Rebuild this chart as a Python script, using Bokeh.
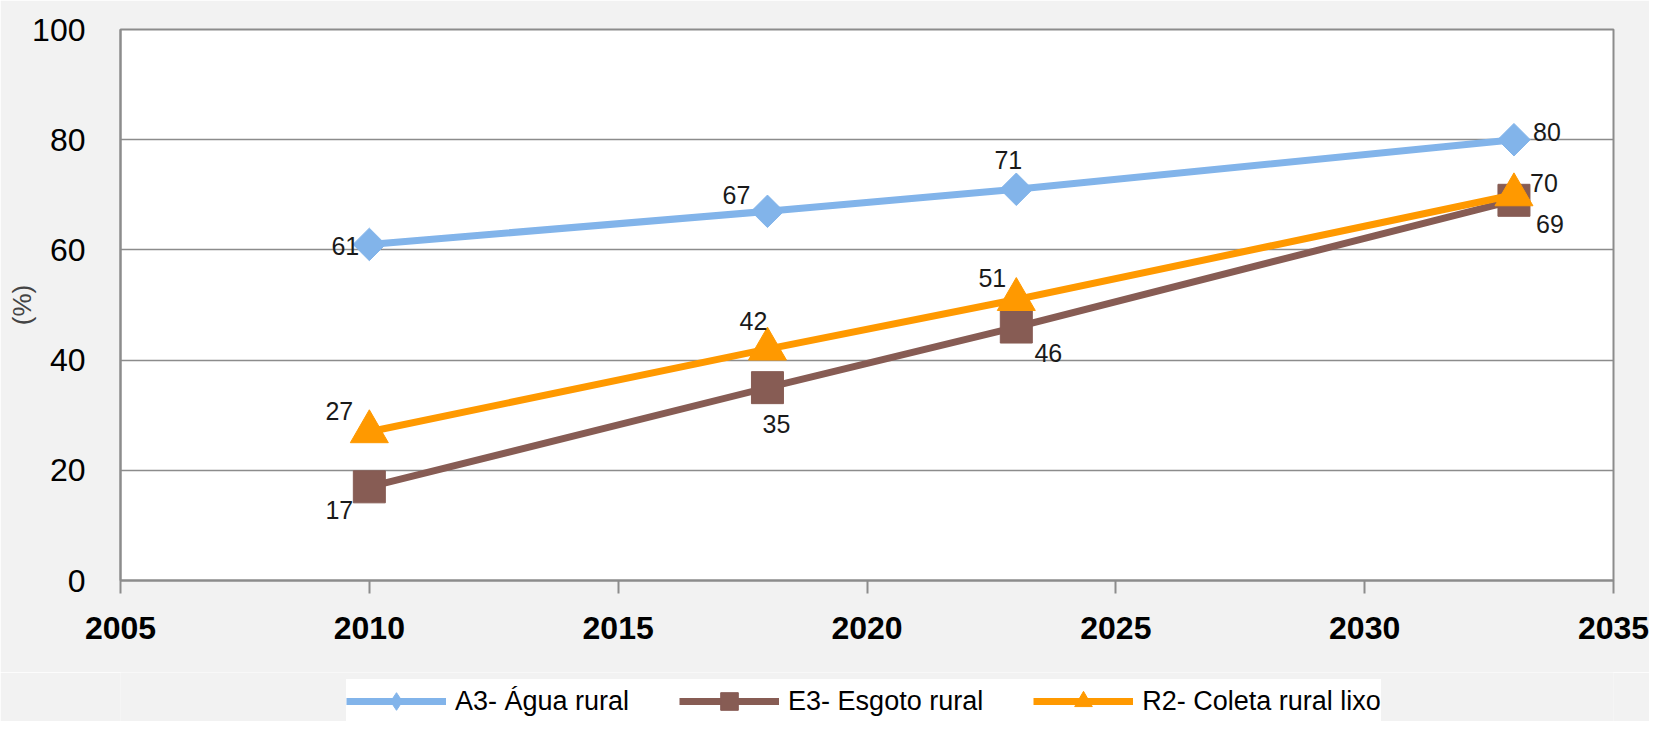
import numpy as np
from bokeh.plotting import figure
from bokeh.layouts import column
from bokeh.models import Range1d, FixedTicker, Legend, LegendItem, ColumnDataSource
from bokeh.core.properties import value
from bokeh.embed import file_html
from bokeh.resources import INLINE

# ---- data ----
years = [2010, 2018, 2023, 2033]
agua_rural = [61, 67, 71, 80]
esgoto_rural = [17, 35, 46, 69]
coleta_rural_lixo = [27, 42, 51, 70]
series_names = ["A3- Água rural", "E3- Esgoto rural", "R2- Coleta rural lixo"]
x_ticks = [2005, 2010, 2015, 2020, 2025, 2030, 2035]
y_ticks = [0, 20, 40, 60, 80, 100]

# ---- label offsets (screen px) ----
agua_dx = [-24, -31, -8, 33]
agua_dy = [2, -16, -29, -8]
esgoto_dx = [-30, 9, 32, 36]
esgoto_dy = [23, 36, 26, 24]
coleta_dx = [-30, -14, -24, 30]
coleta_dy = [-21, -28, -21, -12]

FONT = "Liberation Sans"
BLUE = "#82B4EA"
BROWN = "#875C54"
ORANGE = "#FF9900"
GRID = "#8c8c8c"
BG = "#f2f2f2"

p = figure(width=1649, height=672, x_range=Range1d(2005, 2035), y_range=Range1d(0, 100),
           output_backend="svg", toolbar_location=None,
           min_border_left=120, min_border_right=36, min_border_top=29, min_border_bottom=92)
p.border_fill_color = BG
p.background_fill_color = "white"
p.outline_line_color = GRID
p.outline_line_width = 2

p.xaxis.ticker = FixedTicker(ticks=x_ticks)
p.yaxis.ticker = FixedTicker(ticks=y_ticks)
p.xgrid.visible = False
p.ygrid.grid_line_color = GRID
p.ygrid.grid_line_width = 1.5

for ax in (p.xaxis[0], p.yaxis[0]):
    ax.axis_line_color = GRID
    ax.axis_line_width = 2
    ax.major_tick_line_color = GRID
    ax.major_tick_line_width = 2
    ax.minor_tick_line_color = None
    ax.major_tick_in = 0
    ax.major_label_text_font = FONT
    ax.major_label_text_font_size = "32px"
    ax.major_label_text_color = "black"

p.xaxis.major_tick_out = 13
p.xaxis.major_label_standoff = 23
p.xaxis.major_label_text_font_style = "bold"
p.yaxis.major_tick_out = 0
p.yaxis.major_label_standoff = 35
p.yaxis.axis_label = "(%)"
p.yaxis.axis_label_text_font = FONT
p.yaxis.axis_label_text_font_size = "26px"
p.yaxis.axis_label_text_font_style = "normal"
p.yaxis.axis_label_standoff = -8

specs = [
    (agua_rural, BLUE, agua_dx, agua_dy, dict(marker="square", size=23, angle=np.pi / 4)),
    (esgoto_rural, BROWN, esgoto_dx, esgoto_dy, dict(marker="square", size=32)),
    (coleta_rural_lixo, ORANGE, coleta_dx, coleta_dy, dict(marker="triangle", size=38)),
]
legend_markers = ["diamond", "square", "triangle"]

for name, (vals, color, dx, dy, mk) in zip(series_names, specs):
    src = ColumnDataSource(dict(x=years, y=vals))
    p.line("x", "y", source=src, line_color=color, line_width=7)
    p.scatter("x", "y", source=src, fill_color=color, line_color=color, **mk)

for name, (vals, color, dx, dy, mk) in zip(series_names, specs):
    src = ColumnDataSource(dict(x=years, y=vals, t=[str(v) for v in vals], dx=dx, dy=dy))
    p.text("x", "y", text="t", source=src, x_offset="dx", y_offset="dy",
           text_font=value(FONT), text_font_size="25px", text_color="#1a1a1a",
           text_align="center", text_baseline="middle")

# ---- legend strip (separate figure below the chart) ----
lg = figure(width=1649, height=49, x_range=Range1d(2005, 2035), y_range=Range1d(1000, 1001),
            output_backend="svg", toolbar_location=None,
            min_border_left=0, min_border_right=0, min_border_top=0, min_border_bottom=0)
lg.axis.visible = False
lg.grid.visible = False
lg.outline_line_color = None
lg.background_fill_color = BG
lg.border_fill_color = BG

items = []
for name, lm, (vals, color, dx, dy, mk) in zip(series_names, legend_markers, specs):
    src = ColumnDataSource(dict(x=years, y=vals))
    r1 = lg.line("x", "y", source=src, line_color=color, line_width=7)
    r2 = lg.scatter("x", "y", source=src, marker=lm, size=20, fill_color=color, line_color=color)
    items.append(LegendItem(label=name, renderers=[r1, r2]))

legend = Legend(items=items, orientation="horizontal", location=(226, -2))
legend.background_fill_color = "white"
legend.background_fill_alpha = 1
legend.border_line_color = None
legend.margin = 0
legend.padding = 6
legend.spacing = 50
legend.glyph_width = 100
legend.glyph_height = 44
legend.label_height = 20
legend.label_standoff = 9
legend.label_text_font = FONT
legend.label_text_font_size = "27px"
legend.label_text_color = "black"
lg.add_layout(legend, "center")

layout = column(p, lg, spacing=0)
open("out.html", "w").write(file_html(layout, INLINE))
